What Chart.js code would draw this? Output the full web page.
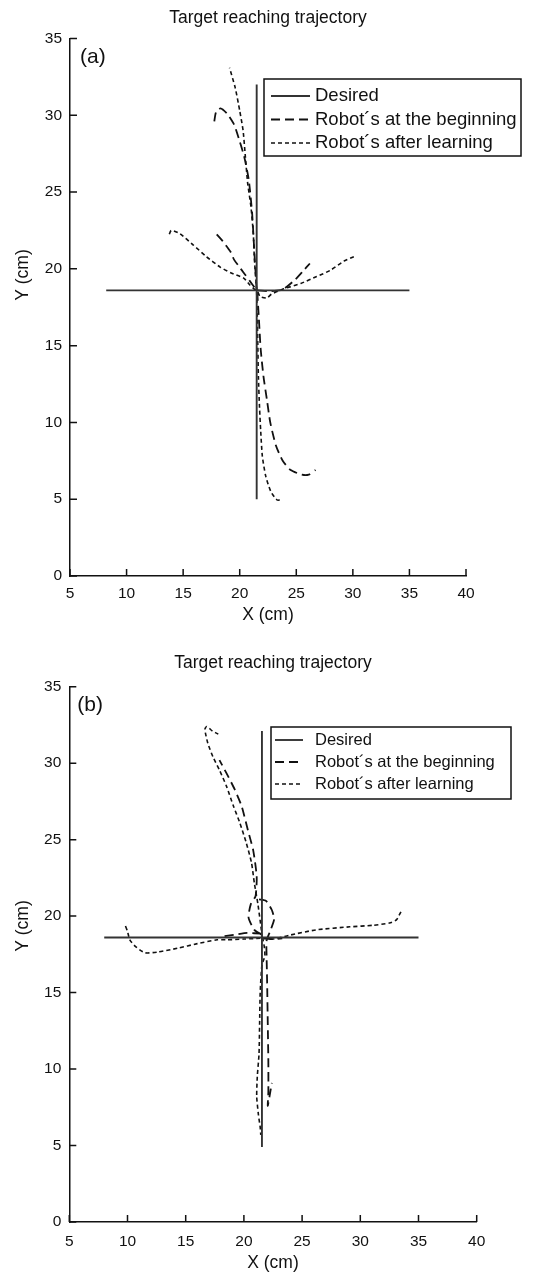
<!DOCTYPE html>
<html lang="en">
<head>
<meta charset="UTF-8">
<title>Target reaching trajectory</title>
<style>
  html, body { margin: 0; padding: 0; background: #fff; }
  .panel { position: absolute; left: 0; width: 537px; }
  #panelA { top: 0; height: 630px; }
  #panelB { top: 630px; height: 645px; }
  canvas { display: block; }
</style>
<script src="https://cdn.jsdelivr.net/npm/chart.js"></script>
</head>
<body>
<div class="panel" id="panelA"><canvas id="chartA" width="537" height="630"></canvas></div>
<div class="panel" id="panelB"><canvas id="chartB" width="537" height="645"></canvas></div>
<script>
// axis ticks (both panels)
const xTicks = [5, 10, 15, 20, 25, 30, 35, 40];
const yTicks = [0, 5, 10, 15, 20, 25, 30, 35];
const seriesNames = ["Desired", "Robot\u00b4s at the beginning", "Robot\u00b4s after learning"];

// panel (a) -- null separates the up / left / right / down trajectories
const aDesiredX = [21.5, 21.5, null, 8.2, 35.0];
const aDesiredY = [5.0, 32.0, null, 18.6, 18.6];

const aBeginX = [21.5, 21.3, 21.1, 20.8, 20.4, 20.0, 19.5, 18.9, 18.3, 17.9, 17.7, null,
                 21.3, 20.9, 20.5, 20.1, 19.5, 19.2, 18.5, 17.9, null,
                 21.6, 22.7, 23.8, 24.9, 25.65, 26.2, null,
                 21.55, 21.7, 21.85, 22.1, 22.4, 22.7, 23.2, 23.8, 24.5, 25.5, 26.1, 26.7];
const aBeginY = [18.6, 21.0, 23.6, 25.8, 27.3, 28.3, 29.4, 30.1, 30.45, 30.2, 29.3, null,
                 18.8, 19.2, 19.6, 20.0, 20.6, 21.1, 21.8, 22.3, null,
                 18.6, 18.55, 18.65, 19.3, 19.9, 20.35, null,
                 18.5, 16.7, 14.8, 13.0, 11.5, 10.0, 8.5, 7.5, 6.9, 6.6, 6.6, 6.9];

const aAfterX = [21.5, 21.3, 21.2, 21.0, 20.7, 20.5, 20.3, 20.0, 19.6, 19.1, null,
                 21.4, 20.9, 20.35, 19.2, 18.3, 17.05, 15.9, 14.7, 13.95, 13.7, null,
                 21.6, 21.8, 22.4, 22.8, 23.9, 25.4, 26.8, 28.0, 29.2, 30.1, null,
                 21.5, 21.55, 21.6, 21.65, 21.75, 21.85, 22.0, 22.3, 22.75, 23.3, 23.6];
const aAfterY = [18.6, 20.6, 22.3, 24.0, 25.6, 27.3, 29.0, 30.3, 31.8, 33.1, null,
                 18.6, 18.95, 19.4, 19.75, 20.1, 20.8, 21.55, 22.3, 22.5, 22.1, null,
                 18.5, 18.2, 18.1, 18.35, 18.7, 19.05, 19.5, 19.9, 20.5, 20.8, null,
                 18.5, 17.0, 15.0, 13.0, 11.0, 9.5, 7.8, 6.5, 5.5, 4.95, 4.95];

// panel (b)
const bDesiredX = [21.55, 21.55, null, 8.0, 35.0];
const bDesiredY = [4.9, 32.1, null, 18.6, 18.6];

const bBeginX = [21.5, 20.9, 20.4, 20.6, 21.0, 21.1, 20.8, 20.35, 19.8, 19.2, 18.5, 17.9, null,
                 21.5, 20.3, 19.3, 18.0, null,
                 21.7, 22.5, 23.3, null,
                 21.3, 21.9, 22.4, 22.6, 22.3, 21.95, 21.95, 22.0, 22.05, 22.1, 22.1, 22.05, 22.2, 22.4];
const bBeginY = [18.8, 19.1, 19.9, 20.8, 21.3, 22.6, 24.3, 25.6, 27.2, 28.3, 29.35, 30.2, null,
                 18.85, 18.9, 18.8, 18.65, null,
                 18.55, 18.5, 18.55, null,
                 21.1, 21.0, 20.4, 19.8, 19.1, 18.4, 17.4, 15.5, 13.0, 10.5, 8.5, 7.6, 8.2, 9.1];

const bAfterX = [21.55, 21.5, 21.2, 20.9, 20.65, 20.2, 19.65, 19.1, 18.5, 17.9, 17.35, 16.9, 16.65, 16.8, 17.3, 17.8, null,
                 21.4, 20.0, 18.5, 17.7, 16.0, 14.3, 12.6, 11.5, 10.7, 10.2, 10.0, 9.8, null,
                 21.7, 22.5, 23.9, 26.2, 29.1, 31.1, 32.5, 33.1, 33.5, null,
                 21.6, 21.75, 21.8, 21.55, 21.4, 21.35, 21.3, 21.15, 21.1, 21.25, 21.4, 21.45];
const bAfterY = [18.6, 19.1, 20.8, 22.15, 23.5, 24.8, 26.1, 27.2, 28.5, 29.55, 30.4, 31.3, 32.2, 32.4, 32.1, 31.9, null,
                 18.55, 18.5, 18.45, 18.45, 18.2, 17.9, 17.65, 17.6, 18.0, 18.45, 19.0, 19.4, null,
                 18.55, 18.5, 18.75, 19.1, 19.3, 19.4, 19.55, 19.75, 20.3, null,
                 18.6, 18.0, 17.4, 16.8, 15.0, 13.0, 11.0, 9.5, 8.2, 7.0, 6.2, 5.7];

const FONT = '"Liberation Sans", Arial, Helvetica, sans-serif';
Chart.defaults.font.family = FONT;
Chart.defaults.color = '#111';

function pts(xs, ys) {
  return xs.map((x, i) => ({ x: x, y: ys[i] }));
}

// small tick marks pointing into the plot
const innerTicks = {
  id: 'innerTicks',
  afterDatasetsDraw(chart, args, opts) {
    const ctx = chart.ctx, area = chart.chartArea;
    const sx = chart.scales.x, sy = chart.scales.y;
    ctx.save();
    ctx.strokeStyle = '#111';
    ctx.lineWidth = 1.5;
    ctx.beginPath();
    sx.ticks.forEach(t => {
      const px = sx.getPixelForValue(t.value);
      ctx.moveTo(px, area.bottom);
      ctx.lineTo(px, area.bottom - opts.len);
    });
    sy.ticks.forEach(t => {
      const py = sy.getPixelForValue(t.value);
      ctx.moveTo(area.left, py);
      ctx.lineTo(area.left + opts.len, py);
    });
    ctx.stroke();
    ctx.restore();
  }
};

// boxed legend, the panel letter and the rotated y title
const extras = {
  id: 'extras',
  afterDraw(chart, args, o) {
    const ctx = chart.ctx, area = chart.chartArea;
    ctx.save();
    // legend
    const lg = o.legend;
    ctx.fillStyle = '#fff';
    ctx.fillRect(lg.x, lg.y, lg.w, lg.h);
    ctx.strokeStyle = '#111';
    ctx.lineWidth = 1.5;
    ctx.strokeRect(lg.x, lg.y, lg.w, lg.h);
    ctx.font = lg.size + 'px ' + FONT;
    ctx.textBaseline = 'middle';
    ctx.textAlign = 'left';
    chart.data.datasets.forEach((ds, i) => {
      const yy = lg.y + lg.first + i * lg.step;
      ctx.setLineDash(ds.borderDash || []);
      ctx.lineWidth = ds.borderWidth;
      ctx.strokeStyle = ds.borderColor;
      ctx.beginPath();
      ctx.moveTo(lg.x + lg.lineStart, yy);
      ctx.lineTo(lg.x + lg.lineEnd, yy);
      ctx.stroke();
      ctx.setLineDash([]);
      ctx.fillStyle = '#111';
      ctx.fillText(ds.label, lg.x + lg.textStart, yy);
    });
    // panel letter
    ctx.font = o.tagSize + 'px ' + FONT;
    ctx.fillText(o.tag, area.left + o.tagDx, area.top + o.tagDy);
    // y title
    ctx.translate(o.yTitleX, o.yTitleY);
    ctx.rotate(-Math.PI / 2);
    ctx.textAlign = 'center';
    ctx.font = '17.5px ' + FONT;
    ctx.fillText('Y (cm)', 0, 0);
    ctx.restore();
  }
};

function makeChart(id, d, lay) {
  return new Chart(document.getElementById(id), {
    type: 'scatter',
    data: {
      datasets: [
        { label: seriesNames[0], data: pts(d.desX, d.desY), borderColor: '#333', borderWidth: 1.9, borderDash: [] },
        { label: seriesNames[1], data: pts(d.begX, d.begY), borderColor: '#111', borderWidth: 1.8, borderDash: [9, 5] },
        { label: seriesNames[2], data: pts(d.aftX, d.aftY), borderColor: '#111', borderWidth: 1.6, borderDash: [4, 3] }
      ].map(ds => Object.assign(ds, { showLine: true, pointRadius: 0, spanGaps: false, tension: 0.2 }))
    },
    options: {
      responsive: false,
      animation: false,
      devicePixelRatio: 1,
      layout: { padding: { top: 0, left: 0, right: lay.right, bottom: 0 } },
      plugins: {
        legend: { display: false },
        tooltip: { enabled: false },
        title: {
          display: true,
          fullSize: false,
          text: 'Target reaching trajectory',
          color: '#111',
          font: { size: 17.5, weight: 'normal' },
          padding: { top: lay.titleTop, bottom: lay.titleBottom }
        },
        innerTicks: { len: 7 },
        extras: lay.extras
      },
      scales: {
        x: {
          type: 'linear',
          min: xTicks[0],
          max: xTicks[xTicks.length - 1],
          afterBuildTicks: s => { s.ticks = xTicks.map(v => ({ value: v })); },
          afterFit: s => { s.height = lay.xHeight; },
          grid: { display: false },
          border: { display: true, color: '#111', width: 1.5 },
          ticks: { padding: lay.xPad, font: { size: 15.5 }, color: '#111', maxRotation: 0, autoSkip: false },
          title: { display: true, text: 'X (cm)', color: '#111', font: { size: 17.5 }, padding: { top: 0, bottom: lay.xTitleBottom } }
        },
        y: {
          type: 'linear',
          min: yTicks[0],
          max: yTicks[yTicks.length - 1],
          afterBuildTicks: s => { s.ticks = yTicks.map(v => ({ value: v })); },
          afterFit: s => { s.width = lay.yWidth; },
          grid: { display: false },
          border: { display: true, color: '#111', width: 1.5 },
          ticks: { padding: 0, font: { size: 15.5 }, color: '#111', autoSkip: false }
        }
      }
    },
    plugins: [innerTicks, extras]
  });
}

makeChart('chartA',
  { desX: aDesiredX, desY: aDesiredY, begX: aBeginX, begY: aBeginY, aftX: aAfterX, aftY: aAfterY },
  {
    right: 71, titleTop: 7.5, titleBottom: 10, xHeight: 54, xPad: 0, xTitleBottom: 4.5, yWidth: 70,
    extras: {
      legend: { x: 264, y: 79, w: 257, h: 77, first: 17, step: 23.5, lineStart: 7, lineEnd: 46, textStart: 51, size: 18.5 },
      tag: '(a)', tagSize: 21, tagDx: 10, tagDy: 19, yTitleX: 23, yTitleY: 275
    }
  });

makeChart('chartB',
  { desX: bDesiredX, desY: bDesiredY, begX: bBeginX, begY: bBeginY, aftX: bAfterX, aftY: bAfterY },
  {
    right: 60.3, titleTop: 22.5, titleBottom: 13.2, xHeight: 53, xPad: 2, xTitleBottom: 1.5, yWidth: 69.3,
    extras: {
      legend: { x: 271, y: 97, w: 240, h: 72, first: 13, step: 22, lineStart: 4, lineEnd: 32, textStart: 44, size: 16.5 },
      tag: '(b)', tagSize: 21, tagDx: 8, tagDy: 19, yTitleX: 23, yTitleY: 296
    }
  });
</script>
</body>
</html>
